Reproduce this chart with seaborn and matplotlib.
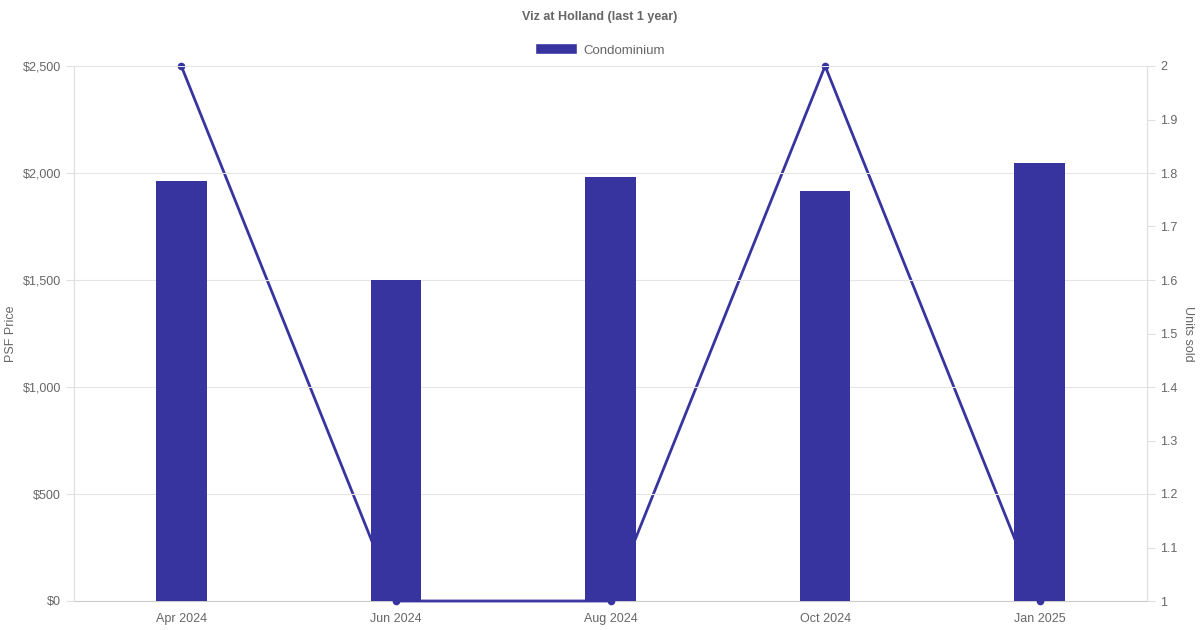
import numpy as np
import matplotlib.pyplot as plt
import pandas as pd
import seaborn as sns
from matplotlib.patches import Patch
from matplotlib.ticker import FuncFormatter, MultipleLocator

months = ['Apr 2024', 'Jun 2024', 'Aug 2024', 'Oct 2024', 'Jan 2025']
psf_price = [1963, 1500, 1982, 1916, 2047]
units_sold = [2, 1, 1, 2, 1]

color = '#38349f'
grey = '#666666'

sns.set_theme(style='white')
plt.rcParams['font.family'] = ['Liberation Sans', 'DejaVu Sans']

df = pd.DataFrame({'month': months, 'psf': psf_price, 'units': units_sold})

fig = plt.figure(figsize=(12, 6.3), dpi=100)
ax = fig.add_axes([74 / 1200, 1 - 601 / 630, (1147 - 74) / 1200, (601 - 66) / 630])
ax2 = ax.twinx()

sns.barplot(data=df, x='month', y='psf', color=color, width=0.235, saturation=1,
            linewidth=0, ax=ax)
sns.lineplot(data=df, x='month', y='units', color=color, linewidth=2, marker='o',
             markersize=5.5, markeredgewidth=0, clip_on=False, ax=ax2)
for ln in ax2.lines:
    ln.set_zorder(5)

# bars on top of the line
ax.set_zorder(ax2.get_zorder() + 1)
ax.patch.set_visible(False)

ax.set_xlim(-0.5, 4.5)
ax.set_ylim(0, 2500)
ax.yaxis.set_major_locator(MultipleLocator(500))
ax.yaxis.set_major_formatter(FuncFormatter(lambda v, p: f'${v:,.0f}'))
ax2.set_ylim(1, 2)
ax2.yaxis.set_major_locator(MultipleLocator(0.1))
ax2.yaxis.set_major_formatter(FuncFormatter(lambda v, p: f'{v:g}'))

ax.grid(axis='y', color='#e5e5e5', linewidth=0.8)
ax.set_axisbelow(True)
for a in (ax, ax2):
    for s in a.spines.values():
        s.set_color('#e0e0e0')
        s.set_linewidth(0.8)
        s.set_zorder(0)
    a.spines['top'].set_visible(False)
    a.spines['bottom'].set_color('#cccccc')
    a.tick_params(colors=grey, labelsize=9, length=6, width=0.8)
    a.tick_params(axis='y', color='#e0e0e0')
    a.tick_params(axis='x', length=5, color='#e0e0e0')
# the bottom baseline sits under the units line
ax.spines['bottom'].set_visible(False)

ax.set_xlabel('')
ax.set_ylabel('PSF Price', color=grey, fontsize=9)
ax2.set_ylabel('Units sold', color=grey, fontsize=9, rotation=270, labelpad=12)
ax2.set_xlabel('')

fig.text(0.5, 1 - 17 / 630, 'Viz at Holland (last 1 year)', ha='center', va='center',
         fontsize=9, fontweight='bold', color=grey)
fig.legend(handles=[Patch(facecolor=color, label='Condominium')], loc='center',
           bbox_to_anchor=(0.5, 1 - 50 / 630), frameon=False, fontsize=9.5,
           labelcolor=grey, handlelength=3.2, handleheight=0.9, handletextpad=0.5)

fig.savefig('out.png', dpi=100)
